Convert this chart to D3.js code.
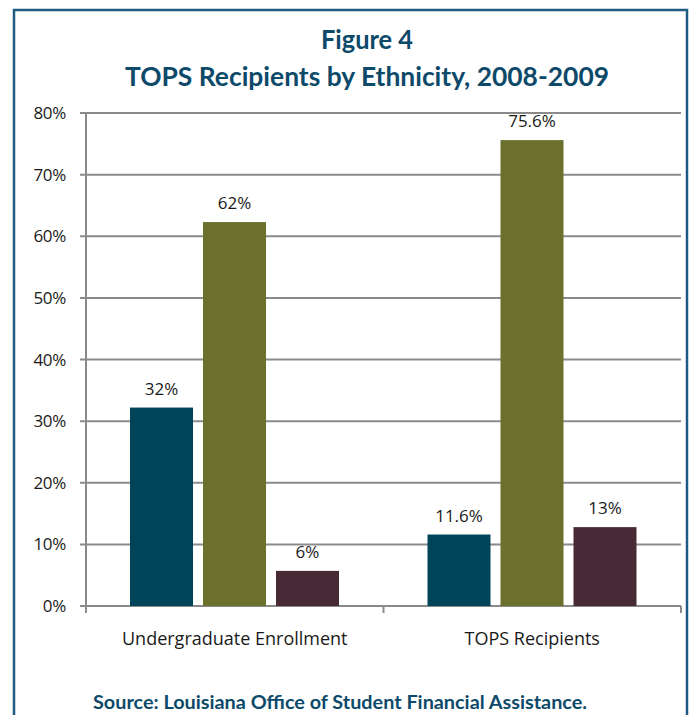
<!DOCTYPE html>
<html><head><meta charset="utf-8">
<script src="https://cdn.jsdelivr.net/npm/d3@7"></script>
<style>body{margin:0;background:#fff}svg{display:block}</style>
</head><body>
<script>
const categories = ["Undergraduate Enrollment", "TOPS Recipients"];
const series = ["s1", "s2", "s3"];
const values = [[32.2, 62.3, 5.7], [11.6, 75.6, 12.8]];
const valueLabels = [["32%", "62%", "6%"], ["11.6%", "75.6%", "13%"]];
const colors = ["#00445A", "#6B702D", "#472A35"];
const yTicks = [0, 10, 20, 30, 40, 50, 60, 70, 80];

(function () {
const W = 695, H = 715;
const svg = d3.select("body").append("svg").attr("width", W).attr("height", H);

svg.append("rect").attr("x", 14).attr("y", 10).attr("width", 673).attr("height", 720)
  .attr("fill", "none").attr("stroke", "#1d5b82").attr("stroke-width", 2.5);

const titleColor = "#0d4a6a";
svg.append("text").attr("x", 367).attr("y", 49).attr("text-anchor", "middle")
  .attr("font-family", "Lato, 'Open Sans', sans-serif").attr("font-weight", "bold")
  .attr("font-size", 26).attr("fill", titleColor)
  .attr("textLength", 92).attr("lengthAdjust", "spacingAndGlyphs").text("Figure 4");
svg.append("text").attr("x", 367).attr("y", 86).attr("text-anchor", "middle")
  .attr("font-family", "Lato, 'Open Sans', sans-serif").attr("font-weight", "bold")
  .attr("font-size", 26).attr("fill", titleColor)
  .attr("textLength", 484).attr("lengthAdjust", "spacingAndGlyphs")
  .text("TOPS Recipients by Ethnicity, 2008-2009");

const pL = 86, pR = 681, pT = 113, pB = 606;
const y = d3.scaleLinear().domain([0, 80]).range([pB, pT]);
const x0 = d3.scaleBand().domain(categories).range([pL, pR]);
const x1 = d3.scaleBand().domain(series).range([44, 44 + 209]).paddingInner(10 / 73);

const grid = "#8a8a8a";
svg.append("g").selectAll("line").data(yTicks).join("line")
  .attr("x1", 80).attr("x2", pR).attr("y1", d => y(d)).attr("y2", d => y(d))
  .attr("stroke", grid).attr("stroke-width", 2);

svg.append("line").attr("x1", pL).attr("x2", pL).attr("y1", pT).attr("y2", pB + 7)
  .attr("stroke", grid).attr("stroke-width", 2);
const xt = [pL, ...categories.slice(1).map(c => x0(c)), pR];
svg.append("g").selectAll("line").data(xt).join("line")
  .attr("x1", d => d).attr("x2", d => d).attr("y1", pB).attr("y2", pB + 7)
  .attr("stroke", grid).attr("stroke-width", 2);

svg.append("g").selectAll("text").data(yTicks).join("text")
  .attr("x", 66).attr("y", d => y(d) + 6).attr("text-anchor", "end")
  .attr("font-family", "'Open Sans', sans-serif").attr("font-size", 17).attr("fill", "#1a1a1a")
  .attr("letter-spacing", -0.3)
  .text(d => d + "%");

const g = svg.append("g").selectAll("g").data(categories).join("g")
  .attr("transform", c => `translate(${x0(c)},0)`);
g.selectAll("rect").data((c, i) => values[i].map((v, j) => ({v, j}))).join("rect")
  .attr("x", d => x1(series[d.j])).attr("width", x1.bandwidth())
  .attr("y", d => y(d.v)).attr("height", d => pB - y(d.v))
  .attr("fill", d => colors[d.j]);
g.selectAll("text").data((c, i) => values[i].map((v, j) => ({v, j, l: valueLabels[i][j]}))).join("text")
  .attr("x", d => x1(series[d.j]) + x1.bandwidth() / 2).attr("y", d => y(d.v) - 13)
  .attr("text-anchor", "middle").attr("font-family", "'Open Sans', sans-serif")
  .attr("font-size", 17).attr("fill", "#1a1a1a").text(d => d.l);

svg.append("g").selectAll("text").data(categories).join("text")
  .attr("x", c => x0(c) + x0.bandwidth() / 2).attr("y", 645).attr("text-anchor", "middle")
  .attr("font-family", "'Open Sans', sans-serif").attr("font-size", 18).attr("fill", "#1a1a1a")
  .text(c => c);

svg.append("text").attr("x", 340).attr("y", 709).attr("text-anchor", "middle")
  .attr("font-family", "Lato, 'Open Sans', sans-serif").attr("font-weight", "bold")
  .attr("font-size", 18).attr("fill", titleColor)
  .attr("textLength", 494).attr("lengthAdjust", "spacingAndGlyphs")
  .text("Source: Louisiana Office of Student Financial Assistance.");
})();
</script>
</body></html>
